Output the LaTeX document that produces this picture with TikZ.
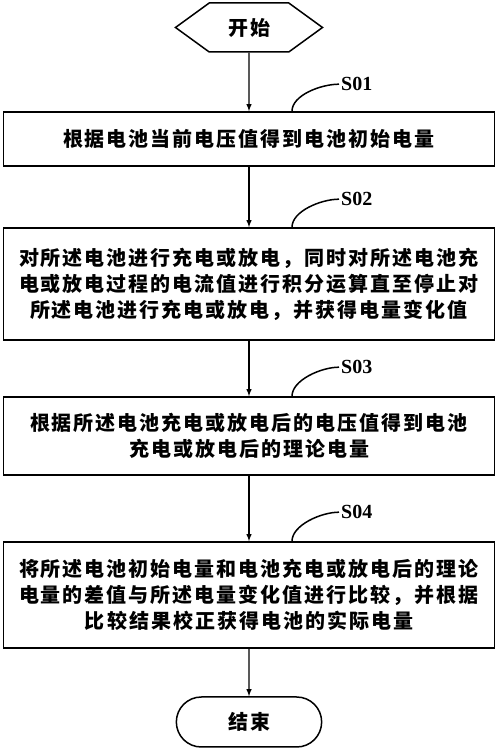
\documentclass[tikz,border=0pt]{standalone}
\usepackage{fontspec}
\setmainfont{Liberation Serif}
\newfontfamily\cjk{Noto Sans CJK SC}[LetterSpace=10]
\usetikzlibrary{shapes, arrows, calc}

\begin{document}
\begin{tikzpicture}[x=1pt, y=1pt, auto]

\tikzstyle{terminal} = [draw, line width=1.5pt, minimum height=49pt, font=\cjk\bfseries\fontsize{20}{26}\selectfont]
\tikzstyle{stepbox} = [rectangle, draw, line width=1.6pt, minimum width=491pt, text width=475pt, align=center, font=\cjk\bfseries\fontsize{20}{26}\selectfont]
\tikzstyle{steplabel} = [anchor=west, inner sep=2pt, font=\bfseries\fontsize{20}{20}\selectfont]
\tikzstyle{line} = [draw, line width=1.4pt]
\tikzstyle{hook} = [draw, line width=1.5pt]

	\useasboundingbox (0,0) rectangle (500,754);

	\node [terminal, signal, signal to=west and east, signal pointer angle=72, minimum width=147pt] (start) at (249,726.5) {开始};

	\node [stepbox, below of=start, node distance=111.5pt, minimum height=54pt] (s1) {根据电池当前电压值得到电池初始电量};
	\node [stepbox, below of=s1, node distance=145pt, minimum height=112pt] (s2) {对所述电池进行充电或放电，同时对所述电池充\\电或放电过程的电流值进行积分运算直至停止对\\所述电池进行充电或放电，并获得电量变化值};
	\node [stepbox, below of=s2, node distance=152pt, minimum height=78pt] (s3) {根据所述电池充电或放电后的电压值得到电池\\充电或放电后的理论电量};
	\node [stepbox, below of=s3, node distance=159pt, minimum height=106pt] (s4) {将所述电池初始电量和电池充电或放电后的理论\\电量的差值与所述电量变化值进行比较，并根据\\比较结果校正获得电池的实际电量};

	\node [terminal, rounded rectangle, below of=s4, node distance=127pt, minimum width=152pt, minimum height=50pt] (stop) {结束};

	\node [steplabel] (l1) at ($(s1.north)+(90,27)$) {S01};
	\node [steplabel] (l2) at ($(s2.north)+(90,28)$) {S02};
	\node [steplabel] (l3) at ($(s3.north)+(90,29)$) {S03};
	\node [steplabel] (l4) at ($(s4.north)+(90,29)$) {S04};

	\path [line, -latex] (start) -- (s1);
	\path [line, -latex] (s1) -- (s2);
	\path [line, -latex] (s2) -- (s3);
	\path [line, -latex] (s3) -- (s4);
	\path [line, -latex] (s4) -- (stop);

	\path [hook] ($(s1.north)+(43,0)$) .. controls +(0,16) and +(-18,0) .. (l1.west);
	\path [hook] ($(s2.north)+(43,0)$) .. controls +(0,16) and +(-18,0) .. (l2.west);
	\path [hook] ($(s3.north)+(43,0)$) .. controls +(0,16) and +(-18,0) .. (l3.west);
	\path [hook] ($(s4.north)+(43,0)$) .. controls +(0,16) and +(-18,0) .. (l4.west);

\end{tikzpicture}
\end{document}
